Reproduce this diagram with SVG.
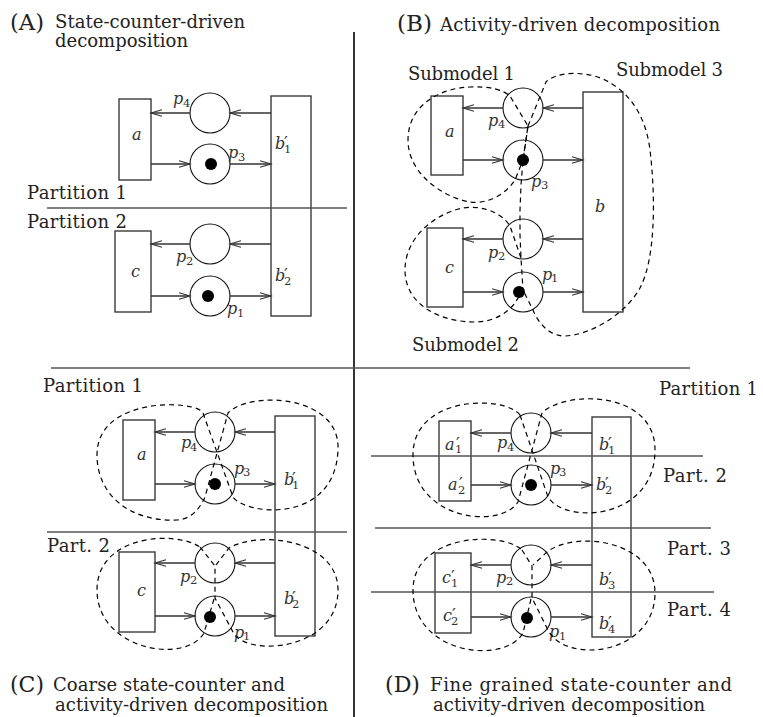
<svg xmlns="http://www.w3.org/2000/svg" width="763" height="717" viewBox="0 0 763 717">
<defs>
<style>
.t{font-family:"DejaVu Serif",serif;font-size:18px;fill:#222}
.big{font-size:22px}
.m{font-family:"DejaVu Serif",serif;font-style:italic;font-size:16px;fill:#333}
.s{font-family:"DejaVu Serif",serif;font-style:normal;font-size:11.5px;fill:#333}
.pr{font-family:"DejaVu Serif",serif;font-style:normal;font-size:17px;fill:#333}
.tr{fill:#fff;stroke:#3a3a3a;stroke-width:1.4}
.pl{fill:#fff;stroke:#111;stroke-width:1.1}
.tok{fill:#000}
.arc{fill:none;stroke:#333;stroke-width:1.3;marker-end:url(#ah)}
.dash{fill:none;stroke:#000;stroke-width:1.2;stroke-dasharray:5 4}
.div{stroke:#000;stroke-width:1.6;fill:none}
.hl{stroke:#555;stroke-width:1.5;fill:none}
</style>
<marker id="ah" markerUnits="userSpaceOnUse" markerWidth="14" markerHeight="10" refX="12" refY="5" orient="auto">
<path d="M1,1.8 L12,5 L1,8.2" fill="none" stroke="#333" stroke-width="1.1"/>
</marker>
</defs>
<rect width="763" height="717" fill="#fff"/>

<g id="titles">
<text class="t big" x="10" y="30" textLength="34" lengthAdjust="spacingAndGlyphs">(A)</text>
<text class="t" x="55" y="28" textLength="190">State-counter-driven</text>
<text class="t" x="55" y="47" textLength="133">decomposition</text>
<text class="t big" x="397" y="31" textLength="35" lengthAdjust="spacingAndGlyphs">(B)</text>
<text class="t" x="440" y="31" textLength="280">Activity-driven decomposition</text>
<text class="t big" x="10" y="692" textLength="34" lengthAdjust="spacingAndGlyphs">(C)</text>
<text class="t" x="53" y="691" textLength="232">Coarse state-counter and</text>
<text class="t" x="55" y="711" textLength="273">activity-driven decomposition</text>
<text class="t big" x="385" y="692" textLength="35" lengthAdjust="spacingAndGlyphs">(D)</text>
<text class="t" x="430" y="691" textLength="302">Fine grained state-counter and</text>
<text class="t" x="433" y="711" textLength="272">activity-driven decomposition</text>
</g>

<g id="regionLabels">
<text class="t" x="27" y="199" textLength="100">Partition 1</text>
<text class="t" x="27" y="228" textLength="100">Partition 2</text>
<text class="t" x="408" y="80" textLength="107">Submodel 1</text>
<text class="t" x="616" y="76" textLength="107">Submodel 3</text>
<text class="t" x="412" y="351" textLength="107">Submodel 2</text>
<text class="t" x="43" y="392" textLength="100">Partition 1</text>
<text class="t" x="47" y="552" textLength="63">Part. 2</text>
<text class="t" x="659" y="395" textLength="99">Partition 1</text>
<text class="t" x="663" y="482" textLength="64">Part. 2</text>
<text class="t" x="667" y="555" textLength="64">Part. 3</text>
<text class="t" x="667" y="616" textLength="64">Part. 4</text>
</g>

<g id="A-a"><rect class="tr" x="119" y="99" width="32" height="81"/><text class="m" x="132" y="140">a</text></g>
<g id="A-c"><rect class="tr" x="115" y="231" width="36" height="81"/><text class="m" x="131" y="277">c</text></g>
<g id="A-b"><rect class="tr" x="271" y="96" width="40" height="220"/>
<text class="m" x="275" y="149">b<tspan class="pr" x="284" y="148">′</tspan><tspan class="s" x="284" y="153">1</tspan></text>
<text class="m" x="275" y="281">b<tspan class="pr" x="284" y="280">′</tspan><tspan class="s" x="284" y="285">2</tspan></text></g>
<g id="A-p4"><circle class="pl" cx="210" cy="113" r="20"/><text class="m" x="173" y="104">p<tspan class="s" x="183" y="107">4</tspan></text></g>
<g id="A-p3"><circle class="pl" cx="210" cy="164" r="20"/><circle class="tok" cx="211" cy="164" r="6"/><text class="m" x="228" y="158">p<tspan class="s" x="238" y="161">3</tspan></text></g>
<g id="A-p2"><circle class="pl" cx="210" cy="244" r="20"/><text class="m" x="176" y="262">p<tspan class="s" x="186" y="265">2</tspan></text></g>
<g id="A-p1"><circle class="pl" cx="210" cy="296" r="20"/><circle class="tok" cx="208" cy="296" r="6"/><text class="m" x="227" y="314">p<tspan class="s" x="237" y="317">1</tspan></text></g>

<g id="B-a"><rect class="tr" x="431" y="96" width="32" height="79"/><text class="m" x="445" y="137">a</text></g>
<g id="B-c"><rect class="tr" x="427" y="228" width="36" height="79"/><text class="m" x="445" y="273">c</text></g>
<g id="B-b"><rect class="tr" x="583" y="92" width="40" height="220"/><text class="m" x="595" y="212">b</text></g>
<g id="B-p4"><circle class="pl" cx="523" cy="108" r="20"/><text class="m" x="488" y="126">p<tspan class="s" x="498" y="128">4</tspan></text></g>
<g id="B-p3"><circle class="pl" cx="523" cy="160" r="20"/><circle class="tok" cx="523" cy="160" r="6"/><text class="m" x="531" y="187">p<tspan class="s" x="541" y="189">3</tspan></text></g>
<g id="B-p2"><circle class="pl" cx="523" cy="239" r="20"/><text class="m" x="488" y="258">p<tspan class="s" x="498" y="260">2</tspan></text></g>
<g id="B-p1"><circle class="pl" cx="523" cy="292" r="20"/><circle class="tok" cx="519" cy="292" r="6"/><text class="m" x="542" y="280">p<tspan class="s" x="551" y="282">1</tspan></text></g>

<g id="C-a"><rect class="tr" x="123" y="420" width="32" height="80"/><text class="m" x="137" y="460">a</text></g>
<g id="C-c"><rect class="tr" x="119" y="552" width="36" height="80"/><text class="m" x="137" y="596">c</text></g>
<g id="C-b"><rect class="tr" x="275" y="416" width="40" height="220"/>
<text class="m" x="284" y="485">b<tspan class="pr" x="292" y="484">′</tspan><tspan class="s" x="292" y="489">1</tspan></text>
<text class="m" x="284" y="604">b<tspan class="pr" x="292" y="603">′</tspan><tspan class="s" x="292" y="608">2</tspan></text></g>
<g id="C-p4"><circle class="pl" cx="215" cy="432" r="20"/><text class="m" x="181" y="448">p<tspan class="s" x="190" y="451">4</tspan></text></g>
<g id="C-p3"><circle class="pl" cx="215" cy="484" r="20"/><circle class="tok" cx="215" cy="484" r="6"/><text class="m" x="234" y="474">p<tspan class="s" x="243" y="476">3</tspan></text></g>
<g id="C-p2"><circle class="pl" cx="215" cy="563" r="20"/><text class="m" x="180" y="582">p<tspan class="s" x="190" y="584">2</tspan></text></g>
<g id="C-p1"><circle class="pl" cx="215" cy="616" r="20"/><circle class="tok" cx="210" cy="617" r="6"/><text class="m" x="234" y="638">p<tspan class="s" x="243" y="640">1</tspan></text></g>

<g id="D-a"><rect class="tr" x="439" y="421" width="32" height="80"/>
<text class="m" x="445" y="450">a<tspan class="pr" x="456" y="449">′</tspan><tspan class="s" x="455" y="453">1</tspan></text>
<text class="m" x="448" y="490">a<tspan class="pr" x="459" y="489">′</tspan><tspan class="s" x="458" y="494">2</tspan></text></g>
<g id="D-c"><rect class="tr" x="435" y="553" width="36" height="80"/>
<text class="m" x="442" y="583">c<tspan class="pr" x="451" y="582">′</tspan><tspan class="s" x="451" y="587">1</tspan></text>
<text class="m" x="443" y="621">c<tspan class="pr" x="452" y="620">′</tspan><tspan class="s" x="451" y="625">2</tspan></text></g>
<g id="D-b"><rect class="tr" x="592" y="417" width="39" height="220"/>
<text class="m" x="599" y="450">b<tspan class="pr" x="608" y="449">′</tspan><tspan class="s" x="608" y="454">1</tspan></text>
<text class="m" x="596" y="490">b<tspan class="pr" x="605" y="489">′</tspan><tspan class="s" x="605" y="494">2</tspan></text>
<text class="m" x="599" y="585">b<tspan class="pr" x="608" y="584">′</tspan><tspan class="s" x="608" y="589">3</tspan></text>
<text class="m" x="599" y="629">b<tspan class="pr" x="608" y="628">′</tspan><tspan class="s" x="608" y="633">4</tspan></text></g>
<g id="D-p4"><circle class="pl" cx="531" cy="433" r="20"/><text class="m" x="497" y="448">p<tspan class="s" x="507" y="451">4</tspan></text></g>
<g id="D-p3"><circle class="pl" cx="531" cy="485" r="20"/><circle class="tok" cx="531" cy="485" r="6"/><text class="m" x="550" y="474">p<tspan class="s" x="559" y="476">3</tspan></text></g>
<g id="D-p2"><circle class="pl" cx="531" cy="565" r="20"/><text class="m" x="496" y="583">p<tspan class="s" x="506" y="585">2</tspan></text></g>
<g id="D-p1"><circle class="pl" cx="531" cy="617" r="20"/><circle class="tok" cx="527" cy="618" r="6"/><text class="m" x="549" y="637">p<tspan class="s" x="559" y="640">1</tspan></text></g>

<g id="connectors">
<path class="arc" d="M271,113 H230"/><path class="arc" d="M190,113 H151"/>
<path class="arc" d="M151,164 H190"/><path class="arc" d="M230,164 H271"/>
<path class="arc" d="M271,244 H230"/><path class="arc" d="M190,244 H151"/>
<path class="arc" d="M151,296 H190"/><path class="arc" d="M230,296 H271"/>

<path class="arc" d="M583,108 H543"/><path class="arc" d="M503,108 H463"/>
<path class="arc" d="M463,160 H503"/><path class="arc" d="M543,160 H583"/>
<path class="arc" d="M583,239 H543"/><path class="arc" d="M503,239 H463"/>
<path class="arc" d="M463,292 H503"/><path class="arc" d="M543,292 H583"/>

<path class="arc" d="M275,432 H235"/><path class="arc" d="M195,432 H155"/>
<path class="arc" d="M155,484 H195"/><path class="arc" d="M235,484 H275"/>
<path class="arc" d="M275,563 H235"/><path class="arc" d="M195,563 H155"/>
<path class="arc" d="M155,616 H195"/><path class="arc" d="M235,616 H275"/>

<path class="arc" d="M592,433 H551"/><path class="arc" d="M511,433 H471"/>
<path class="arc" d="M471,485 H511"/><path class="arc" d="M551,485 H592"/>
<path class="arc" d="M592,565 H551"/><path class="arc" d="M511,565 H471"/>
<path class="arc" d="M471,617 H511"/><path class="arc" d="M551,617 H592"/>
</g>

<g id="lines">
<path class="div" d="M354,32 V717"/>
<path class="hl" d="M51,368 H690"/>
<path class="hl" d="M47,208 H347"/>
<path class="hl" d="M47,532 H347"/>
<path class="hl" d="M371,456 H703"/>
<path class="hl" d="M375,528 H711"/>
<path class="hl" d="M371,592 H714"/>
</g>

<g id="boundaries">
<path class="dash" d="M528,126 L526,140 L523,160 L521,185 L520,210 L520,235 L521,258 L523,290"/>
<path class="dash" d="M523,160 L528,126 L510,96 C503,90 490,86 470,87 C440,88 408,105 408,140 C408,175 445,198 470,202 C488,204 505,195 515,180 L523,160"/>
<path class="dash" d="M528,126 L546,82 C555,72 585,70 605,80 C625,90 645,110 650,150 C656,200 655,260 640,288 C625,315 590,335 565,336 C548,336 538,322 533,310 L523,290"/>
<path class="dash" d="M521,258 L510,226 C500,210 475,203 455,210 C430,218 405,240 405,270 C405,305 440,322 475,322 C495,322 508,312 515,303 L523,290"/>

<path class="dash" d="M203,413 L233,497 C245,515 335,525 338,450 C341,395 250,390 228,413 L205,497 C200,508 192,519 177,520 C130,522 97,495 97,455 C97,395 198,400 203,413 Z"/>
<path class="dash" d="M200,547 L215,566 L215,598 L234,634 C250,657 338,650 338,590 C338,540 260,530 229,548 L216,565 M214,599 L204,633 C185,665 97,650 97,590 C97,535 175,530 200,547"/>

<path class="dash" d="M520,415 L548,497 C565,525 655,520 655,450 C655,390 565,390 542,413 L518,502 C500,530 413,520 413,455 C413,395 505,395 520,415 Z"/>
<path class="dash" d="M522,550 L532,566 L532,598 L548,630 C565,665 655,655 655,593 C655,540 575,530 547,552 L533,565 M531,599 L523,633 C505,665 413,655 413,590 C413,535 500,530 522,550"/>
</g>
</svg>
